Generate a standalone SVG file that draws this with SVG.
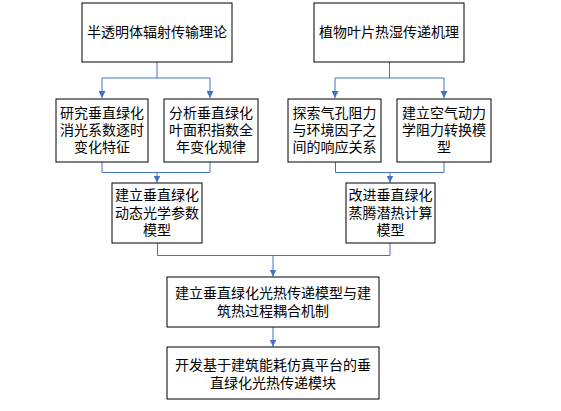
<svg xmlns="http://www.w3.org/2000/svg" width="561" height="411" viewBox="0 0 561 411">
<defs>
<marker id="ah" markerWidth="8" markerHeight="7" refX="7" refY="3.5" orient="auto" markerUnits="userSpaceOnUse">
<path d="M0,0 L7,3.5 L0,7 Z" fill="#4472C4"/>
</marker>
<style>
.box{fill:#fff;stroke:#000;stroke-width:1}
.t{font-family:"Noto Sans CJK SC","Noto Sans CJK JP",sans-serif;font-size:14px;fill:#000;text-anchor:middle}
.c{fill:none;stroke:#4472C4;stroke-width:1}
</style>
</defs>
<rect width="561" height="411" fill="#fff"/>
<g id="connectors">
<path class="c" d="M157,62 V78 H102 V98" marker-end="url(#ah)"/>
<path class="c" d="M157,78 H210 V98" marker-end="url(#ah)"/>
<path class="c" d="M389.5,62 V78 H335 V98" marker-end="url(#ah)"/>
<path class="c" d="M389.5,78 H444 V98" marker-end="url(#ah)"/>
<path class="c" d="M102,162 V172.5 H210 V162"/>
<path class="c" d="M157,172.5 V182.5" marker-end="url(#ah)"/>
<path class="c" d="M335.5,162 V172.5 H444 V162"/>
<path class="c" d="M390,172.5 V182.5" marker-end="url(#ah)"/>
<path class="c" d="M157.5,243 V255.5 H390 V243"/>
<path class="c" d="M273,255.5 V276.5" marker-end="url(#ah)"/>
<path class="c" d="M273,327 V346.5" marker-end="url(#ah)"/>
</g>
<g id="n1"><rect class="box" x="82" y="3" width="150" height="59"/><text class="t" x="157" y="37">半透明体辐射传输理论</text></g>
<g id="n2"><rect class="box" x="314" y="3" width="150" height="59"/><text class="t" x="389" y="37">植物叶片热湿传递机理</text></g>
<g id="n3"><rect class="box" x="56" y="99" width="92" height="63"/><text class="t" x="102" y="118">研究垂直绿化<tspan x="102" dy="17">消光系数逐时</tspan><tspan x="102" dy="17">变化特征</tspan></text></g>
<g id="n4"><rect class="box" x="164" y="99" width="94" height="63"/><text class="t" x="211" y="118">分析垂直绿化<tspan x="211" dy="17">叶面积指数全</tspan><tspan x="211" dy="17">年变化规律</tspan></text></g>
<g id="n5"><rect class="box" x="288" y="99" width="93" height="63"/><text class="t" x="334.5" y="118">探索气孔阻力<tspan x="334.5" dy="17">与环境因子之</tspan><tspan x="334.5" dy="17">间的响应关系</tspan></text></g>
<g id="n6"><rect class="box" x="397" y="99" width="94" height="63"/><text class="t" x="444" y="118">建立空气动力<tspan x="444" dy="17">学阻力转换模</tspan><tspan x="444" dy="17">型</tspan></text></g>
<g id="n7"><rect class="box" x="112" y="183" width="90" height="60"/><text class="t" x="157" y="200">建立垂直绿化<tspan x="157" dy="17.5">动态光学参数</tspan><tspan x="157" dy="17">模型</tspan></text></g>
<g id="n8"><rect class="box" x="346" y="183" width="89" height="60"/><text class="t" x="390.5" y="200">改进垂直绿化<tspan x="390.5" dy="17.5">蒸腾潜热计算</tspan><tspan x="390.5" dy="17">模型</tspan></text></g>
<g id="n9"><rect class="box" x="167" y="277" width="212" height="50"/><text class="t" x="273" y="298">建立垂直绿化光热传递模型与建<tspan x="273" dy="17.5">筑热过程耦合机制</tspan></text></g>
<g id="n10"><rect class="box" x="167" y="347" width="212" height="52"/><text class="t" x="273" y="370">开发基于建筑能耗仿真平台的垂<tspan x="273" dy="18">直绿化光热传递模块</tspan></text></g>
</svg>
